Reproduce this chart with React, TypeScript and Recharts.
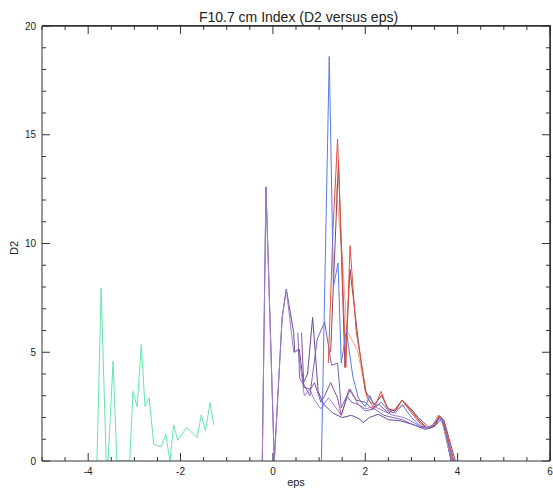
import React from 'react';
import { LineChart, Line, XAxis, YAxis, ReferenceLine } from 'recharts';

// ---- tick definitions ----
const xMajorTicks = [-4, -2, 0, 2, 4, 6];
const xAllTicks = [-5, -4.5, -4, -3.5, -3, -2.5, -2, -1.5, -1, -0.5, 0, 0.5, 1, 1.5, 2, 2.5, 3, 3.5, 4, 4.5, 5, 5.5, 6];
const yMajorTicks = [0, 5, 10, 15, 20];
const yAllTicks = [0, 1, 2, 3, 4, 5, 6, 7, 8, 9, 10, 11, 12, 13, 14, 15, 16, 17, 18, 19, 20];

// ---- series ----
const greenX = [-3.81, -3.72, -3.61, -3.57, -3.46, -3.38, -3.10, -3.03, -2.94, -2.85, -2.77, -2.68, -2.58, -2.42, -2.32, -2.23, -2.15, -2.06, -1.87, -1.64, -1.55, -1.46, -1.36, -1.28];
const greenY = [0, 7.95, 0, 0, 4.6, 0, 0, 3.2, 2.5, 5.35, 2.5, 2.9, 0.77, 0.65, 1.23, 0, 1.66, 0.95, 1.54, 1.08, 2.12, 1.39, 2.68, 1.66];

const purple1X = [-0.23, -0.15, 0.03, 0.2, 0.29, 0.45, 0.47, 0.57, 0.66, 0.75, 0.86, 0.98, 1.1, 1.3, 1.5, 1.7, 1.88, 1.95, 2.09, 2.28, 2.5, 2.75, 3.0, 3.2, 3.4, 3.55, 3.65, 3.72, 3.86];
const purple1Y = [0, 12.6, 0, 6.6, 7.9, 5.9, 5.0, 5.15, 3.6, 4.0, 6.6, 3.2, 2.6, 2.2, 2.0, 2.1, 1.93, 1.77, 2.0, 2.15, 1.9, 1.85, 1.7, 1.55, 1.5, 1.7, 1.95, 1.5, 0];

const purple2X = [-0.23, -0.15, 0.03, 0.2, 0.29, 0.45, 0.55, 0.68, 0.8, 0.9, 1.04, 1.2, 1.35, 1.48, 1.6, 1.68, 1.85, 2.0, 2.2, 2.4, 2.6, 2.85, 3.1, 3.3, 3.5, 3.62, 3.7, 3.88];
const purple2Y = [0, 12.6, 0, 6.6, 7.9, 5.0, 5.1, 3.0, 3.3, 2.8, 2.4, 2.9, 2.5, 2.1, 2.9, 3.3, 2.6, 2.4, 2.5, 2.3, 2.1, 2.0, 1.7, 1.5, 1.6, 2.05, 1.7, 0];

const purple3X = [0.54, 0.58, 0.7, 0.8, 0.96, 1.12, 1.27, 1.4, 1.48, 1.6, 1.7, 1.85, 2.0, 2.2, 2.4, 2.6, 2.8, 3.0, 3.3, 3.5, 3.6, 3.68, 3.86];
const purple3Y = [5.9, 3.8, 3.4, 3.0, 5.6, 6.4, 4.4, 4.5, 2.45, 3.0, 2.7, 2.6, 2.3, 2.4, 2.1, 2.0, 1.9, 1.7, 1.45, 1.6, 2.0, 1.7, 0];

const purple4X = [0.62, 0.67, 0.81, 0.9, 1.04, 1.12, 1.25, 1.4, 1.48, 1.65, 1.8, 2.0, 2.15, 2.3, 2.5, 2.65, 2.8, 2.95, 3.15, 3.35, 3.5, 3.6, 3.7, 3.9];
const purple4Y = [5.9, 3.4, 3.3, 3.6, 2.7, 3.0, 3.6, 2.9, 2.1, 3.3, 2.8, 2.7, 2.4, 2.6, 2.2, 2.4, 2.8, 2.5, 2.0, 1.6, 1.6, 2.05, 1.8, 0];

const salmonX = [1.35, 1.5, 1.6, 1.83, 2.05, 2.2, 2.37, 2.5, 2.7, 2.9, 3.1, 3.3, 3.45, 3.57, 3.65, 3.88];
const salmonY = [13.0, 9.5, 6.0, 5.1, 2.8, 2.6, 3.06, 2.3, 2.4, 2.6, 2.0, 1.5, 1.6, 2.1, 1.9, 0];

const darkRedX = [1.25, 1.42, 1.56, 1.67, 1.85, 2.0, 2.2, 2.35, 2.5, 2.65, 2.8, 3.0, 3.2, 3.35, 3.5, 3.6, 3.7, 3.95];
const darkRedY = [5.0, 13.8, 4.3, 8.8, 5.5, 3.2, 2.6, 3.0, 2.4, 2.3, 2.8, 2.3, 1.8, 1.5, 1.6, 2.05, 1.9, 0];

const redX = [1.2, 1.3, 1.4, 1.58, 1.67, 1.8, 2.03, 2.19, 2.34, 2.46, 2.6, 2.8, 3.0, 3.2, 3.35, 3.5, 3.6, 3.68, 3.92];
const redY = [4.5, 10.6, 14.8, 4.3, 9.9, 6.0, 3.0, 2.4, 3.2, 2.5, 2.2, 2.8, 2.2, 1.7, 1.5, 1.7, 2.1, 1.9, 0];

const blueX = [1.05, 1.22, 1.31, 1.41, 1.48, 1.59, 1.73, 1.85, 2.0, 2.1, 2.2, 2.35, 2.5, 2.65, 2.8, 3.0, 3.2, 3.4, 3.55, 3.65, 3.75, 3.88];
const blueY = [0, 18.6, 8.0, 9.1, 4.5, 6.0, 3.9, 2.9, 2.5, 3.0, 2.5, 2.7, 2.3, 2.2, 2.6, 2.0, 1.6, 1.5, 1.9, 2.0, 1.2, 0];

const toPts = (xs: number[], ys: number[]) => xs.map((x, i) => ({ x, y: ys[i] }));

const series = [
  { name: 'purple1', color: '#6a4a98', data: toPts(purple1X, purple1Y) },
  { name: 'purple2', color: '#a07cd0', data: toPts(purple2X, purple2Y) },
  { name: 'purple3', color: '#7a62b8', data: toPts(purple3X, purple3Y) },
  { name: 'purple4', color: '#8a5290', data: toPts(purple4X, purple4Y) },
  { name: 'salmon', color: '#eaa88c', data: toPts(salmonX, salmonY) },
  { name: 'darkred', color: '#964050', data: toPts(darkRedX, darkRedY) },
  { name: 'red', color: '#e45040', data: toPts(redX, redY) },
  { name: 'blue', color: '#5a78ea', data: toPts(blueX, blueY) },
  { name: 'green', color: '#62e6ac', data: toPts(greenX, greenY) },
];

const AX = '#333';
const FONT = '"Liberation Sans", Arial, Helvetica, sans-serif';

// chart layout
const W = 553;
const H = 488;
const M_TOP = 26;
const M_RIGHT = 3;
const X_AXIS_H = 27;
const Y_AXIS_W = 42;

const BottomTick = (props: any) => {
  const { x, y, payload } = props;
  const major = xMajorTicks.includes(payload.value);
  const len = major ? 8 : 4;
  return (
    <g>
      <line x1={x} y1={y} x2={x} y2={y - len} stroke={AX} strokeWidth={1} />
      {major && (
        <text x={x} y={y + 13.5} textAnchor="middle" fontSize={10} fontFamily={FONT} fill="#222">
          {payload.value}
        </text>
      )}
    </g>
  );
};

const LeftTick = (props: any) => {
  const { x, y, payload } = props;
  const major = yMajorTicks.includes(payload.value);
  const len = major ? 8 : 4;
  return (
    <g>
      <line x1={x} y1={y} x2={x + len} y2={y} stroke={AX} strokeWidth={1} />
      {major && (
        <text x={x - 6} y={y + 3.5} textAnchor="end" fontSize={10} fontFamily={FONT} fill="#222">
          {payload.value}
        </text>
      )}
    </g>
  );
};

// top / right frame ticks, placed through the chart's own scales
const topSegs = xAllTicks.map((v) => ({ v, len: xMajorTicks.includes(v) ? 0.37 : 0.18 }));
const rightSegs = yAllTicks.map((v) => ({ v, len: yMajorTicks.includes(v) ? 0.175 : 0.087 }));

export default function App() {
  return (
    <div style={{ position: 'absolute', left: 0, top: 0, width: W, height: H, background: '#fff', fontFamily: FONT }}>
      <LineChart width={W} height={H} margin={{ top: M_TOP, right: M_RIGHT, bottom: 0, left: 0 }}>
        <XAxis
          xAxisId="bottom"
          type="number"
          dataKey="x"
          domain={[-5, 6]}
          allowDataOverflow
          ticks={xAllTicks}
          interval={0}
          tickLine={false}
          tickSize={0}
          tickMargin={0}
          height={X_AXIS_H}
          axisLine={{ stroke: AX }}
          tick={<BottomTick />}
        />
        <YAxis
          yAxisId="left"
          type="number"
          domain={[0, 20]}
          allowDataOverflow
          ticks={yAllTicks}
          interval={0}
          tickLine={false}
          tickSize={0}
          tickMargin={0}
          width={Y_AXIS_W}
          axisLine={{ stroke: AX }}
          tick={<LeftTick />}
        />
        <ReferenceLine xAxisId="bottom" yAxisId="left" y={20} stroke={AX} strokeWidth={1.5} ifOverflow="extendDomain" />
        <ReferenceLine xAxisId="bottom" yAxisId="left" x={6} stroke={AX} strokeWidth={1.5} ifOverflow="extendDomain" />
        {topSegs.map((t) => (
          <ReferenceLine
            key={'t' + t.v}
            xAxisId="bottom"
            yAxisId="left"
            segment={[{ x: t.v, y: 20 }, { x: t.v, y: 20 - t.len }]}
            stroke={AX}
            strokeWidth={1}
          />
        ))}
        {rightSegs.map((t) => (
          <ReferenceLine
            key={'r' + t.v}
            xAxisId="bottom"
            yAxisId="left"
            segment={[{ x: 6, y: t.v }, { x: 6 - t.len, y: t.v }]}
            stroke={AX}
            strokeWidth={1}
          />
        ))}
        {series.map((s) => (
          <Line
            key={s.name}
            xAxisId="bottom"
            yAxisId="left"
            data={s.data}
            dataKey="y"
            type="linear"
            stroke={s.color}
            strokeWidth={1}
            dot={false}
            activeDot={false}
            isAnimationActive={false}
          />
        ))}
      </LineChart>
      <div style={{ position: 'absolute', left: Y_AXIS_W, top: M_TOP - 1, width: W - M_RIGHT - Y_AXIS_W + 1, height: H - X_AXIS_H - M_TOP + 1, borderTop: `1px solid ${AX}`, borderRight: `1px solid ${AX}`, boxSizing: 'border-box', pointerEvents: 'none' }} />
      <div style={{ position: 'absolute', left: 298.5, top: 16.5, transform: 'translate(-50%, -50%)', fontSize: 14, color: '#222', whiteSpace: 'nowrap', lineHeight: '16px' }}>
        F10.7 cm Index (D2 versus eps)
      </div>
      <div style={{ position: 'absolute', left: 296, top: 481.5, transform: 'translate(-50%, -50%)', fontSize: 11, color: '#222', whiteSpace: 'nowrap', lineHeight: '12px' }}>
        eps
      </div>
      <div style={{ position: 'absolute', left: 14, top: 248, transform: 'translate(-50%, -50%) rotate(-90deg)', fontSize: 11, color: '#222', whiteSpace: 'nowrap', lineHeight: '12px' }}>
        D2
      </div>
    </div>
  );
}
